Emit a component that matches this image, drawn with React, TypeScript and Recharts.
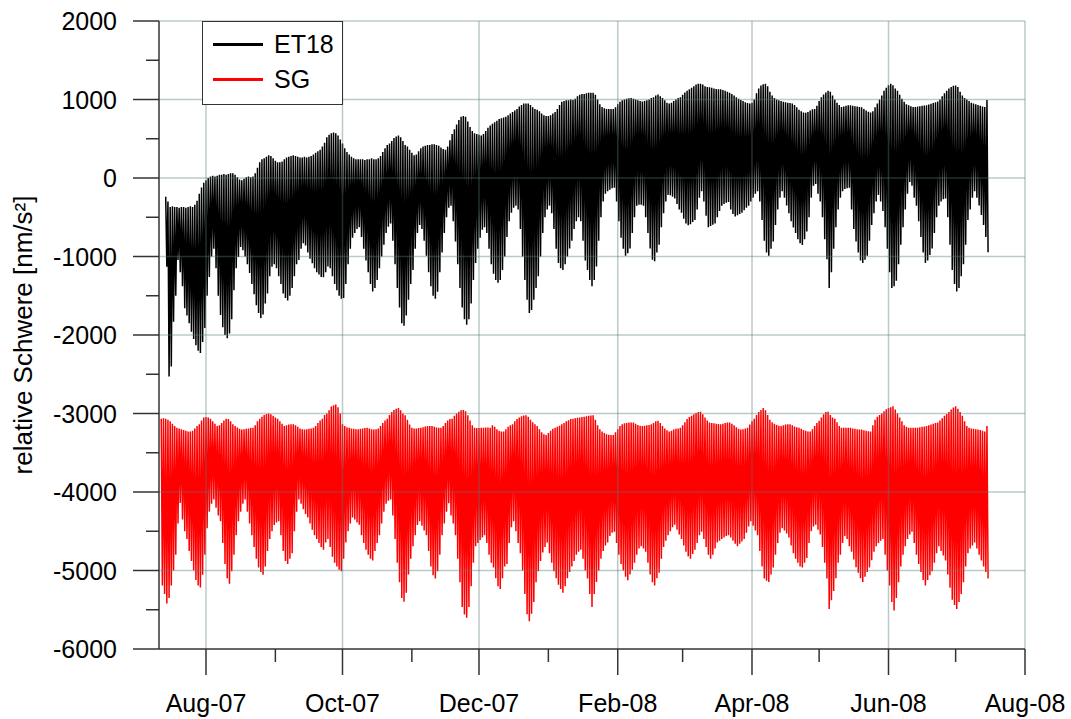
import React from 'react';
import { LineChart, Line, XAxis, YAxis, ReferenceLine } from 'recharts';

// Daily gravity readings, 12 Jul 2007 .. 16 Jul 2008 (one high and one low per day), nm/s²
const DAY_MS = 86400000;
const seriesStart = Date.UTC(2007, 6, 12);

const etHi: (number | null)[] = [
  null, null, -240, -300, -370, -360, -370, -370, -380, -370,
  -370, -380, -370, -360, -370, -340, -290, -200, -120, -60,
  -30, 0, 20, 30, 20, 30, 40, 40, 50, 40,
  50, 60, 60, 40, 10, -20, -30, -10, 10, 20,
  10, 20, 60, 130, 200, 240, 250, 270, 290, 280,
  250, 220, 200, 200, 210, 240, 260, 270, 280, 290,
  280, 270, 260, 260, 270, 260, 270, 280, 300, 320,
  340, 360, 400, 450, 520, 550, 570, 580, 570, 540,
  490, 440, 380, 330, 300, 270, 250, 240, 240, 240,
  240, 230, 240, 240, 250, 240, 240, 250, 280, 330,
  380, 420, 440, 470, 510, 530, 540, 520, 470, 420,
  400, 360, 320, 290, 300, 340, 380, 400, 410, 420,
  420, 430, 430, 420, 410, 390, 370, 360, 400, 480,
  560, 620, 680, 740, 780, 790, 780, 720, 650, 600,
  570, 560, 550, 540, 560, 600, 640, 670, 690, 710,
  730, 750, 760, 770, 780, 800, 820, 840, 860, 880,
  910, 930, 950, 950, 950, 930, 900, 880, 870, 850,
  820, 800, 790, 790, 800, 820, 840, 880, 930, 970,
  980, 990, 990, 1000, 995, 1010, 1040, 1060, 1070, 1070,
  1080, 1085, 1085, 1087, 1060, 1000, 940, 904, 890, 880,
  880, 880, 880, 900, 940, 970, 990, 1000, 1010, 1015,
  1018, 1010, 1000, 990, 980, 973, 980, 990, 1000, 1018,
  1030, 1050, 1064, 1040, 1018, 990, 960, 950, 960, 980,
  1000, 1018, 1030, 1060, 1090, 1110, 1132, 1150, 1170, 1190,
  1200, 1201, 1190, 1170, 1160, 1155, 1150, 1140, 1135, 1130,
  1130, 1120, 1110, 1100, 1087, 1070, 1050, 1030, 1010, 995,
  980, 965, 955, 950, 960, 1000, 1080, 1140, 1178, 1195,
  1201, 1170, 1100, 1050, 1018, 1000, 990, 980, 970, 965,
  960, 955, 950, 930, 900, 870, 850, 835, 830, 840,
  860, 875, 880, 920, 980, 1030, 1064, 1090, 1110, 1100,
  1050, 1000, 960, 930, 904, 910, 920, 927, 927, 920,
  915, 910, 905, 900, 880, 860, 845, 835, 850, 900,
  950, 1000, 1050, 1110, 1150, 1180, 1200, 1180, 1140, 1110,
  1060, 1010, 970, 940, 927, 915, 905, 904, 910, 915,
  920, 925, 927, 935, 945, 955, 965, 973, 1000, 1040,
  1080, 1110, 1140, 1160, 1175, 1178, 1160, 1100, 1050, 1018,
  1000, 980, 960, 950, 940, 930, 920, 910, 904, 995,
];

const etLo: (number | null)[] = [
  null, null, -1130, -2530, -2400, -1830, -1500, -1045, -1200, -1380,
  -1660, -1750, -1850, -1960, -2050, -2130, -2200, -2230, -2090, -1910,
  -1500, -1260, -1000, -900, -1150, -1500, -1745, -1900, -2000, -2040,
  -1980, -1800, -1430, -1150, -1006, -880, -920, -1000, -1100, -1210,
  -1350, -1480, -1620, -1720, -1785, -1740, -1600, -1470, -1250, -1130,
  -1100, -1150, -1250, -1350, -1470, -1530, -1560, -1500, -1400, -1250,
  -1100, -1045, -900, -830, -860, -950, -1030, -1085, -1150, -1200,
  -1230, -1260, -1265, -1200, -1128, -1150, -1250, -1350, -1430, -1500,
  -1539, -1530, -1350, -1100, -900, -762, -700, -650, -626, -750,
  -900, -1050, -1200, -1350, -1447, -1400, -1300, -1150, -1000, -850,
  -700, -620, -580, -800, -1100, -1400, -1650, -1850, -1881, -1750,
  -1550, -1350, -1173, -900, -700, -600, -650, -800, -990, -1200,
  -1380, -1500, -1539, -1450, -1200, -950, -700, -500, -380, -352,
  -550, -808, -1100, -1400, -1650, -1800, -1870, -1800, -1600, -1300,
  -1082, -900, -760, -660, -626, -700, -900, -1100, -1219, -1300,
  -1333, -1300, -1173, -1000, -750, -550, -443, -380, -352, -400,
  -650, -1000, -1300, -1550, -1721, -1680, -1550, -1400, -1250, -1000,
  -700, -500, -400, -352, -450, -650, -900, -1082, -1150, -1173,
  -1100, -1000, -899, -800, -650, -550, -500, -550, -800, -1050,
  -1173, -1300, -1379, -1300, -1128, -800, -500, -300, -200, -169,
  -150, -130, -123, -300, -550, -760, -900, -990, -960, -899,
  -700, -500, -352, -340, -340, -352, -500, -700, -899, -1040,
  -1059, -950, -850, -626, -450, -300, -215, -220, -240, -260,
  -330, -400, -443, -520, -580, -603, -590, -560, -535, -400,
  -250, -170, -300, -480, -626, -610, -595, -580, -500, -420,
  -352, -330, -315, -306, -400, -460, -489, -475, -460, -443,
  -410, -380, -352, -300, -250, -200, -169, -300, -535, -800,
  -950, -990, -900, -808, -600, -400, -250, -169, -250, -350,
  -450, -550, -630, -700, -780, -830, -854, -780, -680, -500,
  -250, -100, -77, -200, -300, -500, -780, -1036, -1402, -1200,
  -900, -626, -400, -250, -169, -140, -130, -123, -400, -650,
  -808, -950, -1050, -1082, -1040, -990, -800, -600, -450, -300,
  -215, -300, -420, -626, -900, -1200, -1402, -1380, -1310, -1100,
  -850, -626, -400, -200, -50, -100, -250, -352, -550, -750,
  -950, -1082, -1050, -980, -899, -700, -500, -352, -300, -270,
  -260, -500, -850, -1173, -1350, -1447, -1400, -1250, -1100, -850,
  -535, -400, -250, -169, -250, -350, -470, -600, -750, -945,
];

const sgHi: number[] = [
  -3068, -3060, -3068, -3080, -3100, -3130, -3160, -3183, -3190, -3200,
  -3210, -3220, -3228, -3228, -3220, -3190, -3160, -3137, -3090, -3050,
  -3046, -3050, -3068, -3100, -3130, -3160, -3150, -3120, -3090, -3068,
  -3070, -3100, -3137, -3160, -3180, -3195, -3205, -3200, -3195, -3190,
  -3185, -3183, -3150, -3100, -3068, -3040, -3020, -3005, -3000, -3010,
  -3030, -3050, -3068, -3100, -3130, -3160, -3150, -3140, -3137, -3137,
  -3150, -3170, -3190, -3200, -3205, -3200, -3195, -3190, -3183, -3160,
  -3120, -3090, -3068, -3020, -3000, -2960, -2910, -2895, -2886, -2920,
  -3000, -3137, -3160, -3175, -3183, -3190, -3195, -3200, -3200, -3195,
  -3190, -3185, -3183, -3190, -3200, -3205, -3200, -3190, -3160, -3120,
  -3090, -3068, -3020, -2980, -2954, -2940, -2931, -2960, -3000, -3023,
  -3080, -3140, -3183, -3190, -3190, -3185, -3183, -3175, -3165, -3160,
  -3160, -3160, -3170, -3180, -3183, -3183, -3160, -3120, -3090, -3070,
  -3068, -3030, -3000, -2977, -2960, -2954, -2970, -3023, -3090, -3150,
  -3183, -3185, -3185, -3183, -3183, -3180, -3180, -3183, -3150, -3170,
  -3200, -3220, -3228, -3228, -3200, -3170, -3150, -3137, -3100, -3070,
  -3050, -3035, -3025, -3023, -3040, -3080, -3110, -3137, -3160, -3200,
  -3240, -3265, -3274, -3250, -3220, -3195, -3183, -3170, -3155, -3137,
  -3120, -3100, -3085, -3070, -3068, -3060, -3055, -3050, -3046, -3040,
  -3035, -3030, -3025, -3023, -3080, -3150, -3200, -3228, -3250, -3265,
  -3270, -3274, -3274, -3240, -3200, -3160, -3137, -3125, -3120, -3115,
  -3114, -3114, -3130, -3145, -3155, -3160, -3155, -3150, -3145, -3137,
  -3120, -3100, -3091, -3120, -3160, -3190, -3215, -3228, -3220, -3205,
  -3195, -3190, -3183, -3150, -3110, -3070, -3046, -3030, -3010, -2995,
  -2980, -2977, -3010, -3050, -3090, -3114, -3120, -3125, -3130, -3135,
  -3137, -3130, -3120, -3115, -3114, -3130, -3150, -3175, -3195, -3205,
  -3200, -3190, -3183, -3140, -3100, -3068, -3020, -2980, -2954, -2931,
  -2960, -3020, -3080, -3110, -3130, -3145, -3155, -3160, -3150, -3140,
  -3137, -3137, -3150, -3165, -3175, -3183, -3195, -3210, -3220, -3228,
  -3228, -3200, -3160, -3120, -3091, -3050, -3010, -2980, -2977, -3020,
  -3050, -3068, -3110, -3160, -3183, -3183, -3183, -3183, -3183, -3190,
  -3195, -3200, -3205, -3205, -3215, -3220, -3225, -3228, -3150, -3080,
  -3040, -3020, -3000, -2970, -2945, -2931, -2920, -2908, -2950, -3000,
  -3050, -3100, -3150, -3170, -3183, -3183, -3183, -3183, -3183, -3175,
  -3170, -3165, -3160, -3150, -3140, -3130, -3120, -3114, -3090, -3060,
  -3030, -3005, -2980, -2950, -2925, -2908, -2940, -2980, -3030, -3100,
  -3160, -3183, -3190, -3195, -3200, -3205, -3210, -3220, -3228, -3160,
];

const sgLo: number[] = [
  -5192, -5300, -5420, -5350, -5192, -5000, -4800, -4400, -4141, -4350,
  -4500, -4600, -4750, -4880, -5000, -5120, -5190, -5215, -5055, -4800,
  -4462, -4250, -4150, -4096, -4200, -4300, -4371, -4650, -4917, -5100,
  -5169, -5009, -4800, -4550, -4371, -4250, -4150, -4096, -4250, -4400,
  -4552, -4700, -4850, -4963, -5020, -5055, -4950, -4750, -4600, -4500,
  -4420, -4390, -4371, -4550, -4750, -4880, -4917, -4850, -4781, -4500,
  -4250, -4096, -4150, -4220, -4280, -4325, -4400, -4480, -4552, -4600,
  -4650, -4700, -4735, -4644, -4600, -4700, -4826, -4900, -4950, -4990,
  -5009, -4850, -4644, -4500, -4400, -4325, -4350, -4390, -4417, -4550,
  -4650, -4735, -4800, -4850, -4872, -4750, -4650, -4552, -4400, -4250,
  -4150, -4110, -4096, -4300, -4600, -4900, -5150, -5350, -5397, -5283,
  -5050, -4850, -4690, -4550, -4420, -4371, -4430, -4490, -4552, -4750,
  -4950, -5060, -5101, -5009, -4800, -4552, -4400, -4250, -4143, -4300,
  -4400, -4552, -4850, -5150, -5466, -5560, -5603, -5466, -5200, -4900,
  -4690, -4650, -4610, -4580, -4552, -4650, -4800, -4900, -4963, -5100,
  -5200, -5237, -5100, -4950, -4917, -4650, -4450, -4371, -4500, -4650,
  -4781, -5000, -5300, -5557, -5648, -5550, -5400, -5150, -5009, -4880,
  -4770, -4700, -4644, -4780, -4900, -5009, -5100, -5180, -5237, -5283,
  -5200, -5100, -5020, -4950, -4880, -4800, -4760, -4735, -4850, -5000,
  -5101, -5300, -5466, -5300, -5146, -5000, -4850, -4750, -4680, -4644,
  -4560, -4520, -4507, -4650, -4800, -4917, -5000, -5080, -5123, -5050,
  -4990, -4900, -4800, -4720, -4690, -4720, -4760, -4900, -5050, -5150,
  -5192, -5100, -5030, -4850, -4700, -4620, -4552, -4500, -4450, -4417,
  -4480, -4540, -4598, -4680, -4760, -4820, -4849, -4790, -4735, -4650,
  -4550, -4507, -4600, -4700, -4800, -4849, -4800, -4720, -4644, -4620,
  -4600, -4580, -4560, -4552, -4580, -4620, -4660, -4690, -4660, -4630,
  -4598, -4520, -4440, -4371, -4430, -4490, -4552, -4750, -4950, -5101,
  -5130, -5146, -5050, -4963, -4800, -4650, -4520, -4462, -4490, -4530,
  -4580, -4680, -4780, -4850, -4900, -4950, -4963, -4900, -4840, -4650,
  -4500, -4440, -4417, -4480, -4540, -4700, -4900, -5101, -5489, -5380,
  -5260, -5100, -4900, -4800, -4650, -4560, -4600, -4690, -4760, -4860,
  -4960, -5030, -5100, -5146, -5080, -5020, -4963, -4870, -4760, -4690,
  -4650, -4620, -4598, -4800, -5000, -5192, -5400, -5511, -5350, -5150,
  -4950, -4800, -4690, -4600, -4540, -4507, -4650, -4800, -4917, -5020,
  -5120, -5192, -5120, -5060, -5009, -4900, -4780, -4690, -4750, -4810,
  -4872, -5050, -5220, -5374, -5440, -5489, -5400, -5300, -5150, -4950,
  -4781, -4720, -4680, -4644, -4720, -4800, -4872, -4950, -5020, -5101,
];

// Month ticks along the time axis; labelled every second month
const monthTicks: [number, number][] = [
  [2007, 8], [2007, 9], [2007, 10], [2007, 11], [2007, 12],
  [2008, 1], [2008, 2], [2008, 3], [2008, 4], [2008, 5], [2008, 6], [2008, 7], [2008, 8],
];
const monthLabels = ['Aug-07', '', 'Oct-07', '', 'Dec-07', '', 'Feb-08', '', 'Apr-08', '', 'Jun-08', '', 'Aug-08'];

const yTicks = [-6000, -5500, -5000, -4500, -4000, -3500, -3000, -2500, -2000, -1500, -1000, -500, 0, 500, 1000, 1500, 2000];
const yGridValues = [-5000, -4000, -3000, -2000, -1000, 0, 1000, 2000];

const seriesNames = { et: 'ET18', sg: 'SG' };
const seriesColors = { et: '#000000', sg: '#ff0000' };

const xDomain: [number, number] = [Date.UTC(2007, 6, 11), Date.UTC(2008, 7, 1)];
const tickTimes = monthTicks.map(([y, m]) => Date.UTC(y, m - 1, 1));
const gridTimes = tickTimes.filter((_, i) => monthLabels[i] !== '');

// one high then one low per day
const chartData: { t: number; et: number | null; sg: number }[] = [];
for (let i = 0; i < sgHi.length; i++) {
  const t = seriesStart + i * DAY_MS;
  chartData.push({ t, et: etHi[i], sg: sgHi[i] });
  chartData.push({ t: t + DAY_MS / 2, et: etLo[i], sg: sgLo[i] });
}

const FONT = '"Liberation Sans", Arial, Helvetica, sans-serif';
const AXIS_COLOR = '#333333';
const GRID_COLOR = '#557777';

const XTick = (props: any) => {
  const { x, y, payload } = props;
  const idx = tickTimes.indexOf(payload.value);
  const label = idx >= 0 ? monthLabels[idx] : '';
  const len = label ? 26 : 13;
  return (
    <g>
      <line x1={x} x2={x} y1={y} y2={y + len} stroke={AXIS_COLOR} strokeWidth={1.5} />
      {label ? (
        <text x={x} y={y + 63} textAnchor="middle" fontSize={25} fontFamily={FONT} fill="#000">
          {label}
        </text>
      ) : null}
    </g>
  );
};

const YTick = (props: any) => {
  const { x, y, payload } = props;
  const major = payload.value % 1000 === 0;
  return (
    <g>
      <line x1={x - (major ? 26 : 13)} x2={x} y1={y} y2={y} stroke={AXIS_COLOR} strokeWidth={1.5} />
      {major ? (
        <text x={x - 42} y={y + 9} textAnchor="end" fontSize={25} fontFamily={FONT} fill="#000">
          {payload.value}
        </text>
      ) : null}
    </g>
  );
};

const YLabel = () => (
  <text
    x={32}
    y={335}
    transform="rotate(-90 32 335)"
    textAnchor="middle"
    fontSize={26}
    fontFamily={FONT}
    fill="#000"
  >
    relative Schwere [nm/s²]
  </text>
);

export default function App() {
  return (
    <div style={{ position: 'absolute', left: 0, top: 0, width: 1071, height: 719, background: '#fff' }}>
      <LineChart
        width={1071}
        height={719}
        data={chartData}
        margin={{ top: 21, right: 46, bottom: 0, left: 0 }}
      >
        <XAxis
          dataKey="t"
          type="number"
          domain={xDomain}
          allowDataOverflow
          ticks={tickTimes}
          interval={0}
          height={70}
          tickSize={0}
          tickMargin={0}
          tickLine={false}
          axisLine={{ stroke: AXIS_COLOR, strokeWidth: 1.5 }}
          tick={<XTick />}
        />
        <YAxis
          type="number"
          domain={[-6000, 2000]}
          allowDataOverflow
          ticks={yTicks}
          interval={0}
          width={159}
          tickSize={0}
          tickMargin={0}
          tickLine={false}
          axisLine={{ stroke: AXIS_COLOR, strokeWidth: 1.5 }}
          tick={<YTick />}
          label={{ content: () => <YLabel /> }}
        />
        <Line
          dataKey="et"
          name={seriesNames.et}
          stroke={seriesColors.et}
          strokeWidth={1.5}
          dot={false}
          activeDot={false}
          type="linear"
          isAnimationActive={false}
        />
        <Line
          dataKey="sg"
          name={seriesNames.sg}
          stroke={seriesColors.sg}
          strokeWidth={1.5}
          dot={false}
          activeDot={false}
          type="linear"
          isAnimationActive={false}
        />
        {gridTimes.map((t) => (
          <ReferenceLine key={'gx' + t} x={t} stroke={GRID_COLOR} strokeOpacity={0.4} strokeWidth={1.5} />
        ))}
        {yGridValues.map((v) => (
          <ReferenceLine key={'gy' + v} y={v} stroke={GRID_COLOR} strokeOpacity={0.4} strokeWidth={1.5} />
        ))}
      </LineChart>

      <div
        style={{
          position: 'absolute',
          left: 202,
          top: 21,
          width: 139,
          height: 82,
          border: '1px solid #333',
          background: '#fff',
          fontFamily: FONT,
          fontSize: 25,
          color: '#000',
        }}
      >
        {(['et', 'sg'] as const).map((k, i) => (
          <div key={k} style={{ position: 'absolute', left: 10, top: 7 + i * 35, height: 30, display: 'flex', alignItems: 'center' }}>
            <span style={{ display: 'inline-block', width: 50, height: 3, background: seriesColors[k] }} />
            <span style={{ marginLeft: 11, lineHeight: '30px' }}>{seriesNames[k]}</span>
          </div>
        ))}
      </div>
    </div>
  );
}
